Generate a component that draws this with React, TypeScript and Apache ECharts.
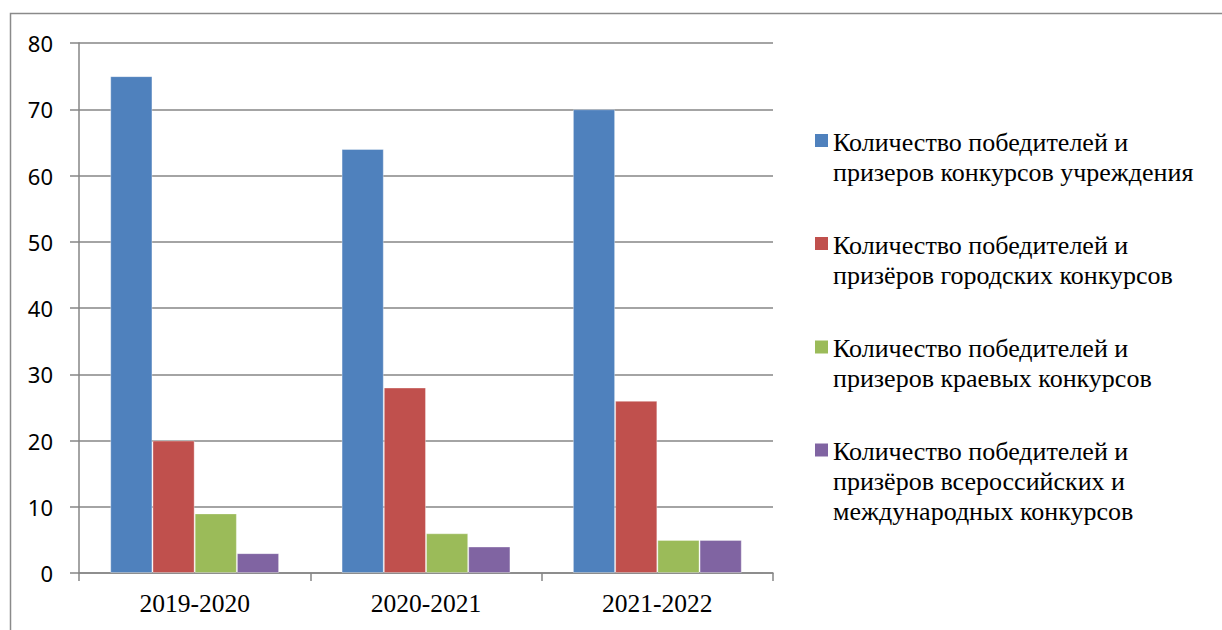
import React, { useEffect, useRef } from "react";
import * as echarts from "echarts";

const categories = ["2019-2020", "2020-2021", "2021-2022"];
const seriesNames = [
  "Количество победителей и\nпризеров конкурсов учреждения",
  "Количество победителей и\nпризёров городских конкурсов",
  "Количество победителей и\nпризеров краевых конкурсов",
  "Количество победителей и\nпризёров всероссийских и\nмеждународных конкурсов",
];
const institutionValues = [75, 64, 70];
const cityValues = [20, 28, 26];
const regionalValues = [9, 6, 5];
const nationalValues = [3, 4, 5];
const seriesValues = [institutionValues, cityValues, regionalValues, nationalValues];
const colors = ["#4F81BD", "#C0504D", "#9BBB59", "#8064A2"];
const yTicks = [0, 10, 20, 30, 40, 50, 60, 70, 80];

export default function App() {
  const ref = useRef<HTMLDivElement>(null);
  useEffect(() => {
    document.body.style.margin = "0";
    if (!ref.current) return;
    const chart = echarts.init(ref.current, undefined, { renderer: "svg" });
    const legendFirstLine = [142, 245, 348.5, 451.5];
    const graphic: any[] = [
      {
        type: "rect",
        shape: { x: 10.5, y: 13.5, width: 1400, height: 800 },
        style: { fill: "none", stroke: "#8a8a8a", lineWidth: 1.5 },
        silent: true,
      },
    ];
    seriesNames.forEach((name, i) => {
      graphic.push({
        type: "rect",
        shape: { x: 815, y: legendFirstLine[i] - 8, width: 13, height: 13 },
        style: { fill: colors[i] },
      });
      name.split("\n").forEach((line, j) => {
        graphic.push({
          type: "text",
          x: 833,
          y: legendFirstLine[i] + j * 30 - 13,
          style: { text: line, fontFamily: "serif", fontSize: 26, fill: "#000" },
        });
      });
    });
    chart.setOption({
      animation: false,
      backgroundColor: "#fff",
      grid: { left: 79, top: 43, width: 694, height: 530, containLabel: false },
      xAxis: {
        type: "category",
        data: categories,
        axisLine: { lineStyle: { color: "#868686", width: 1.5 } },
        axisTick: { show: true, length: 8, lineStyle: { color: "#868686", width: 1.5 } },
        axisLabel: { margin: 17, color: "#000", fontFamily: "serif", fontSize: 25.5 },
      },
      yAxis: {
        type: "value",
        min: 0,
        max: 80,
        interval: 10,
        axisLine: { show: true, lineStyle: { color: "#868686", width: 1.5 } },
        axisTick: { show: true, length: 9, lineStyle: { color: "#868686", width: 1.5 } },
        splitLine: { show: true, lineStyle: { color: "#868686", width: 1.5 } },
        axisLabel: {
          margin: 26,
          color: "#000",
          fontFamily: "Noto Sans",
          fontSize: 22,
          formatter: (v: number) => (yTicks.includes(v) ? String(v) : ""),
        },
      },
      series: seriesValues.map((vals, i) => ({
        type: "bar",
        name: seriesNames[i],
        data: vals,
        barGap: "0%",
        barCategoryGap: "27%",
        itemStyle: { color: colors[i], borderColor: "rgba(255,255,255,0.35)", borderWidth: 1 },
      })),
      graphic,
    });
    return () => chart.dispose();
  }, []);
  return <div ref={ref} style={{ width: 1222, height: 630 }} />;
}
